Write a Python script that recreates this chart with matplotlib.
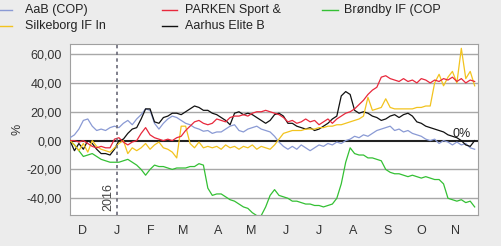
import pandas as pd
import numpy as np
import matplotlib
matplotlib.use("Agg")
import matplotlib.pyplot as plt
import matplotlib.dates as mdates
from matplotlib.lines import Line2D
from matplotlib.transforms import blended_transform_factory

plt.rcParams['font.family'] = ['Liberation Sans', 'DejaVu Sans']

# one sample every 4 days, Nov 20 2015 -> Nov 18 2016
dates = pd.date_range('2015-11-20', periods=92, freq='4D')

aab = [2, 4, 8, 14, 15, 10, 7, 8, 7, 9, 10, 9, 12, 14, 11, 15, 18, 22, 21, 12,
       8, 12, 15, 17, 16, 14, 12, 11, 9, 8, 6.5, 7, 5, 6, 6, 8, 10, 11, 7, 6,
       8, 9, 10, 8, 7, 6, 3, -1, -4, -6, -4, -6, -3, -5, -7, -5, -3, -4, -2, -3,
       -1, -2, 0, 1, 3, 2, 4, 3, 5, 7, 8, 9, 10, 7, 8, 6, 7, 5, 4, 3,
       1, 0, 1, -2, 0, -1, -3, -1, -3, -2, -5, -6]
parken = [0, 0, -1, 0, -2, -4, -5, -4, -5, -5, 1, 2, -1, -3, -1, 0, 5, 9, 4, 2,
          1, 0, 1, 0, 2, 3, 7, 10, 13, 14, 12, 11, 12, 15, 14, 13, 16, 17, 17, 18,
          17, 19, 20, 20, 21, 20, 19, 18, 16, 13, 14, 12, 13, 15, 13, 14, 11, 13, 15, 12,
          15, 17, 19, 20, 22, 25, 28, 32, 35, 37, 44, 45, 43, 42, 41, 43, 41, 42, 40, 43,
          42, 40, 42, 41, 43, 42, 44, 41, 43, 40, 42, 41]
brondby = [0, -3, -7, -11, -10, -9, -11, -13, -14, -15, -15, -15, -14, -13, -15, -17, -20, -24, -20, -17,
           -18, -18, -19, -20, -19, -19, -19, -18, -18, -16, -17, -33, -38, -37, -37, -39, -41, -42, -44, -46,
           -47, -50, -52, -52, -46, -38, -34, -38, -39, -40, -42, -42, -43, -44, -44, -45, -45, -46, -45, -44,
           -40, -30, -15, -5, -9, -10, -10, -12, -12, -13, -14, -20, -22, -23, -23, -24, -25, -24, -25, -26,
           -25, -26, -27, -27, -30, -40, -41, -42, -41, -43, -42, -46]
silkeborg = [0, -3, -7, -2, -8, 0, -4, -6, -7, -8, -5, -2, 0, -9, -5, -7, -5, -2, -6, -3,
             -1, -5, -6, -8, -12, 10, 10, -2, -5, -1, -5, -4, -5, -4, -6, -3, -5, -4, -6, -4,
             -5, -3, -6, -4, -5, -6, -3, 1, 5, 6, 7, 7, 7, 8, 8, 8, 9, 9, 10, 10,
             11, 11, 12, 13, 14, 15, 17, 30, 21, 22, 23, 29, 23, 22, 22, 22, 22, 22, 23, 23,
             24, 24, 40, 46, 38, 44, 48, 40, 64, 43, 48, 38]
aarhus = [0, -7, -2, -6, 0, -2, -6, -9, -9, -10, -6, 0, 1, 5, 8, 9, 15, 22, 22, 13,
          12, 16, 17, 19, 19, 18, 20, 22, 24, 23, 21, 21, 19, 18, 16, 14, 11, 19, 20, 18,
          19, 18, 16, 14, 12, 14, 18, 19, 17, 12, 12, 10, 9, 8, 9, 7, 8, 10, 12, 15,
          17, 31, 34, 32, 21, 19, 20, 19, 17, 16, 14, 15, 17, 18, 16, 18, 19, 17, 13, 12,
          10, 9, 8, 7, 6, 4, 3, 2, 0, -3, -4, 0]

names = ['AaB (COP)', 'PARKEN Sport &', 'Brøndby IF (COP', 'Silkeborg IF In', 'Aarhus Elite B']
colors = ['#8a9ad4', '#e8283c', '#34c034', '#f2c31e', '#111111']
series = [aab, parken, brondby, silkeborg, aarhus]

months = ['D', 'J', 'F', 'M', 'A', 'M', 'J', 'J', 'A', 'S', 'O', 'N']
month_starts = pd.date_range('2015-12-01', periods=12, freq='MS')
yticks = [-40, -20, 0, 20, 40, 60]
ylabels = ['-40,00', '-20,00', '0,00', '20,00', '40,00', '60,00']

fig = plt.figure(figsize=(5.01, 2.46), dpi=100, facecolor='#ececec')
ax = fig.add_axes([70/501, 1-215/246, 408/501, 171/246])
ax.set_facecolor('white')

for y in yticks:
    if y != 0:
        ax.axhline(y, color='#a8a8a8', lw=1, zorder=1)

for i in [0, 2, 4, 3, 1]:
    ax.plot(dates, series[i], color=colors[i], lw=0.9, zorder=3)

ax.axhline(0, color='#222222', lw=1.5, zorder=2)
jan1 = pd.Timestamp('2016-01-01')
ax.axvline(jan1, color='#6a6a78', lw=1.2, ls=(0, (2, 2)), zorder=4)
ax.annotate('2016', xy=(jan1, -49), xytext=(-2, 0), textcoords='offset points',
            rotation=90, ha='right', va='bottom', fontsize=9, color='#444444')

tr = blended_transform_factory(ax.transAxes, ax.transData)
ax.text(0.982, 0.6, '0%', transform=tr, ha='right', va='bottom', fontsize=9, color='#222222', zorder=5)

ax.set_xlim(pd.Timestamp('2015-11-20'), pd.Timestamp('2016-11-21'))
ax.set_ylim(-51.6, 67)
ax.set_xticks(month_starts)
ax.set_xticklabels(months)
ax.set_yticks(yticks)
ax.set_yticklabels(ylabels)
ax.tick_params(length=0, labelsize=9, colors='#333333', pad=6)
ax.tick_params(axis='x', pad=7)
for s in ax.spines.values():
    s.set_color('#a0a0a0')
ax.set_ylabel('%', fontsize=9, color='#333333', labelpad=2)

# legend, 3 columns x 2 rows like the original (pixel positions)
line_x = [(-3, 12), (162, 177), (322, 338)]
text_x = [25, 185, 344]
row_y = [10, 26]
for k in range(len(names)):
    c = k % 3
    ry = row_y[k // 3]
    x0, x1 = line_x[c]
    fig.add_artist(Line2D([x0/501, x1/501], [1-ry/246, 1-ry/246], color=colors[k], lw=1))
    fig.text(text_x[c]/501, 1-ry/246, names[k], fontsize=9, color='#222222', va='center', ha='left')

fig.savefig('out.png', dpi=100, facecolor=fig.get_facecolor())
